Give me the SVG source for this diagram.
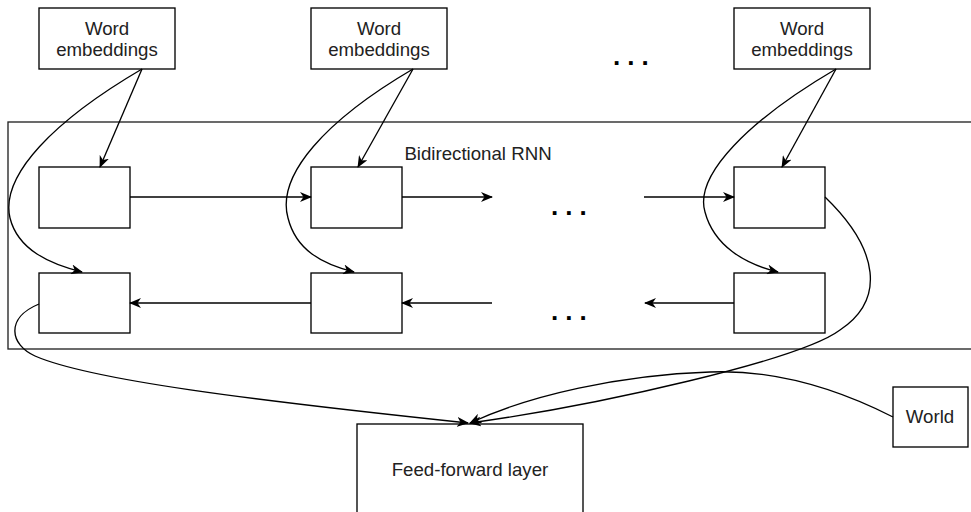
<svg xmlns="http://www.w3.org/2000/svg" width="971" height="512" viewBox="0 0 971 512">
<style>
.box{fill:#fff;stroke:#000;stroke-width:1.33}
.cont{fill:none;stroke:#222;stroke-width:1.33}
.lbl{font-family:"Liberation Sans",Arial,sans-serif;font-size:18.67px;fill:#222;text-anchor:middle}
.dots{font-family:"Liberation Sans",Arial,sans-serif;font-size:26px;font-weight:bold;fill:#000;letter-spacing:7px}
.edge{fill:none;stroke:#000;stroke-width:1.33;marker-end:url(#arr)}
</style>
<defs>
<marker id="arr" viewBox="0 0 12 10" refX="11" refY="5" markerWidth="12" markerHeight="10" markerUnits="userSpaceOnUse" orient="auto">
<path d="M0,0 L12,5 L0,10 L3.5,5 z" fill="#000"/>
</marker>
</defs>
<g id="rnn-container">
<rect class="cont" x="8" y="122" width="980" height="227"/>
<text class="lbl" x="478" y="160">Bidirectional RNN</text>
</g>
<g id="we1"><rect class="box" x="39" y="8" width="136" height="61"/><text class="lbl" x="107" y="35">Word</text><text class="lbl" x="107" y="56">embeddings</text></g>
<g id="we2"><rect class="box" x="311" y="8" width="136" height="61"/><text class="lbl" x="379" y="35">Word</text><text class="lbl" x="379" y="56">embeddings</text></g>
<g id="we3"><rect class="box" x="734" y="8" width="136" height="61"/><text class="lbl" x="802" y="35">Word</text><text class="lbl" x="802" y="56">embeddings</text></g>
<g id="dots-top"><text class="dots" x="613" y="65">...</text></g>
<g id="f1"><rect class="box" x="39" y="167" width="91" height="61"/></g>
<g id="f2"><rect class="box" x="311" y="167" width="91" height="61"/></g>
<g id="f3"><rect class="box" x="734" y="167" width="91" height="61"/></g>
<g id="b1"><rect class="box" x="39" y="273" width="91" height="60"/></g>
<g id="b2"><rect class="box" x="311" y="273" width="91" height="60"/></g>
<g id="b3"><rect class="box" x="734" y="273" width="91" height="60"/></g>
<g id="dots-mid1"><text class="dots" x="551" y="215">...</text></g>
<g id="dots-mid2"><text class="dots" x="551" y="320">...</text></g>
<g id="world"><rect class="box" x="893" y="387" width="75" height="60"/><text class="lbl" x="930" y="423">World</text></g>
<g id="ffl"><rect class="box" x="357" y="424" width="226" height="120"/><text class="lbl" x="470" y="476">Feed-forward layer</text></g>
<g id="connectors">
<path class="edge" d="M142,69 L100,167"/>
<path class="edge" d="M413,69 L358,167"/>
<path class="edge" d="M836,69 L782,167"/>
<path class="edge" d="M142,69 C55,120 0,175 10,218 C18,250 50,264 82,272"/>
<path class="edge" d="M413,69 C326,120 276,175 288,218 C296,250 322,264 354,272"/>
<path class="edge" d="M836,69 C749,120 694,175 705,212 C714,246 745,264 778,272"/>
<path class="edge" d="M130,197 L311,197"/>
<path class="edge" d="M402,197 L492,197"/>
<path class="edge" d="M644,197 L734,197"/>
<path class="edge" d="M311,303 L130,303"/>
<path class="edge" d="M492,303 L402,303"/>
<path class="edge" d="M734,303 L645,303"/>
<path class="edge" d="M39,304 C5,318 10,345 35,356 C90,380 250,400 468,423"/>
<path class="edge" d="M825,197 C880,250 885,300 840,330 C800,360 600,405 470,423"/>
<path class="edge" d="M893,417 C820,380 760,370 710,372 C620,375 530,395 470,423"/>
</g>
</svg>
